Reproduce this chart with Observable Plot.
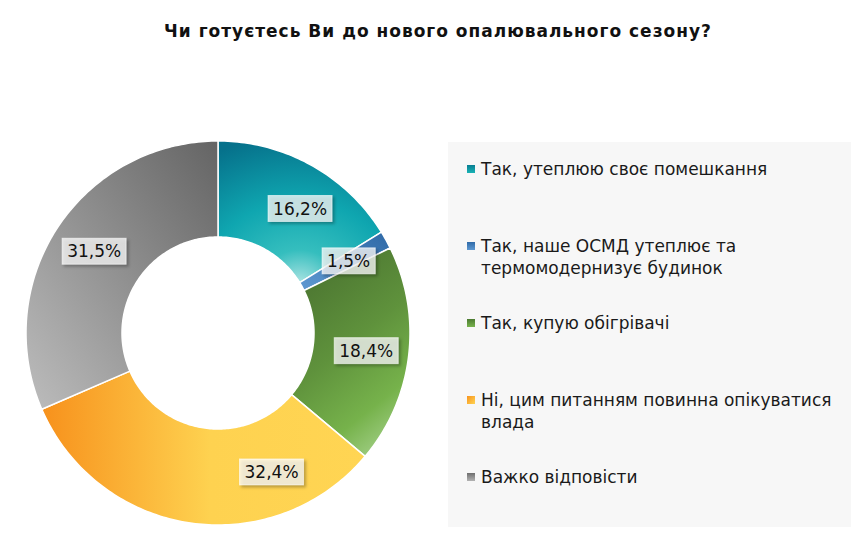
<!DOCTYPE html>
<html><head><meta charset="utf-8">
<script src="https://cdn.jsdelivr.net/npm/d3@7"></script>
<script src="https://cdn.jsdelivr.net/npm/@observablehq/plot@0.6"></script>
<style>
body{margin:0;background:#fff;font-family:"DejaVu Sans",sans-serif;}
#wrap{position:relative;width:856px;height:553px;overflow:hidden;background:#fff}
#title{position:absolute;left:10px;width:856px;top:20px;text-align:center;font-weight:bold;font-size:17px;letter-spacing:1px;color:#111;line-height:22px}
#chart{position:absolute;left:0;top:0}
#legend{position:absolute;left:448px;top:142px;width:403px;height:385px;background:#f7f7f7;box-sizing:border-box;padding-top:16px}
.item{height:77px;position:relative;padding-left:33px;font-size:17px;line-height:22px;color:#1a1a1a;width:360px}
.sw{position:absolute;left:19px;top:7px;width:8px;height:8px}
</style></head>
<body>
<div id="wrap">
  <div id="title">Чи готуєтесь Ви до нового опалювального сезону?</div>
  <div id="chart"></div>
  <div id="legend"></div>
</div>
<script>
// ---- data ----
const categories = [
  "Так, утеплюю своє помешкання",
  "Так, наше ОСМД утеплює та термомодернизує будинок",
  "Так, купую обігрівачі",
  "Ні, цим питанням повинна опікуватися влада",
  "Важко відповісти"
];
const values = [16.2, 1.5, 18.4, 32.4, 31.5];
const labels = ["16,2%", "1,5%", "18,4%", "32,4%", "31,5%"];

// ---- style ----
const gradIds = ["gTeal", "gBlue", "gGreen", "gOrange", "gGrey"];
const swatchCss = [
  "linear-gradient(#087d92,#19b3b5)",
  "linear-gradient(#2f6aa8,#5e98d1)",
  "linear-gradient(#4b7a30,#78b34d)",
  "linear-gradient(135deg,#f7931e,#ffd452)",
  "linear-gradient(#6e6e6e,#b3b3b3)"
];
const innerRatio = 0.5;
const labelRadius = 0.775;
const labelAlong = [0.57, 0.5, 0.5, 0.25, 0.5]; // where along each slice the label sits

// ---- geometry derived from values ----
const total = d3.sum(values);
const cum = d3.cumsum(values);
const rows = [];
const labelRows = [];
values.forEach((v, i) => {
  const s = (cum[i] - v) / total, e = cum[i] / total;
  const n = Math.max(4, Math.ceil((e - s) * 360));
  for (let k = 0; k <= n; k++) {
    const a = 2 * Math.PI * (s + (e - s) * k / n);
    rows.push({cat: categories[i], x1: Math.sin(a), y1: Math.cos(a), x2: innerRatio * Math.sin(a), y2: innerRatio * Math.cos(a)});
  }
  const am = 2 * Math.PI * (s + (e - s) * labelAlong[i]);
  labelRows.push({cat: categories[i], text: labels[i], x: labelRadius * Math.sin(am), y: labelRadius * Math.cos(am)});
});

const chart = Plot.plot({
  width: 440, height: 553,
  marginLeft: 26, marginRight: 30, marginTop: 141, marginBottom: 28,
  x: {domain: [-1, 1], axis: null},
  y: {domain: [-1, 1], axis: null},
  color: {domain: categories, range: gradIds.map(id => `url(#${id})`)},
  style: {background: "transparent", fontFamily: "DejaVu Sans", overflow: "visible"},
  marks: [
    Plot.area(rows, {x1: "x1", y1: "y1", x2: "x2", y2: "y2", z: "cat", fill: "cat", stroke: "white", strokeWidth: 1.5}),
    Plot.text(labelRows, {x: "x", y: "y", text: "text", fontSize: 17, fill: "#111"})
  ]
});
document.getElementById("chart").appendChild(chart);

// gradients
const svg = d3.select(chart);
const defs = svg.insert("defs", ":first-child");
function lin(id, x1, y1, x2, y2, stops) {
  const g = defs.append("linearGradient").attr("id", id).attr("x1", x1).attr("y1", y1).attr("x2", x2).attr("y2", y2);
  stops.forEach(([o, c]) => g.append("stop").attr("offset", o).attr("stop-color", c));
}
const rg = defs.append("radialGradient").attr("id", "gTeal").attr("cx", 0.5).attr("cy", 1).attr("r", 1.05);
[[0, "#a9e3e2"], [0.22, "#35bebe"], [0.55, "#0fa6b0"], [1, "#06718b"]].forEach(([o, c]) => rg.append("stop").attr("offset", o).attr("stop-color", c));
lin("gBlue", 0, 1, 1, 0, [[0, "#5f99d2"], [1, "#2f69a6"]]);
lin("gGreen", 0.3, 0, 0.75, 1, [[0, "#4a7330"], [0.45, "#5f923c"], [0.78, "#76b24b"], [1, "#a3d088"]]);
lin("gOrange", 0, 0, 1, 0, [[0, "#f7911c"], [0.52, "#fed250"], [1, "#ffd553"]]);
lin("gGrey", 1, 0, 0, 1, [[0, "#646464"], [1, "#bdbdbd"]]);

// label boxes
svg.selectAll("g[aria-label='text'] text").each(function () {
  const b = this.getBBox();
  d3.select(this.parentNode).insert("rect", () => this)
    .attr("transform", this.getAttribute("transform"))
    .attr("x", b.x - 5).attr("y", b.y - 3).attr("width", b.width + 10).attr("height", b.height + 6)
    .attr("fill", "rgba(255,255,255,0.76)").attr("stroke", "rgba(255,255,255,0.6)")
    .style("filter", "drop-shadow(2px 2px 1.5px rgba(0,0,0,0.35))");
});

// legend
const legend = d3.select("#legend");
categories.forEach((c, i) => {
  const it = legend.append("div").attr("class", "item");
  it.append("div").attr("class", "sw").style("background", swatchCss[i]);
  it.append("span").text(c);
});
</script>
</body></html>
